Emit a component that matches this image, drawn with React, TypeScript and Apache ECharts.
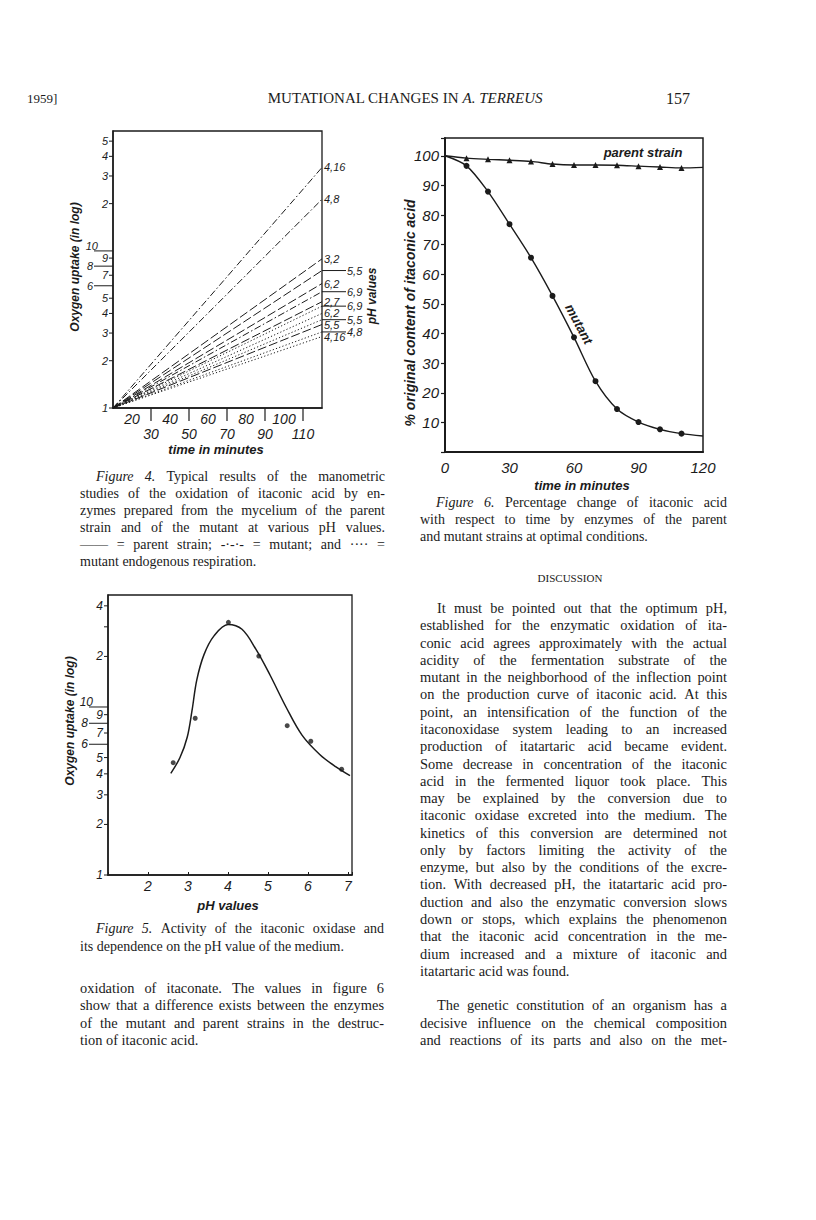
import React, { useEffect, useRef } from 'react';
import * as echarts from 'echarts';

const INK = '#1b1b1b';
const SANS = '"Liberation Sans"';
const SERIF = '"Liberation Serif"';

// ---------------- Figure 4 (oxygen uptake vs time, log scale) ----------------
const fig4TimeStart = 10;
const fig4TimeEnd = 120;
const fig4UptakeStart = 1;
const fig4YMax = 58;
const fig4PH = ['4,16', '4,8', '3,2', '5,5', '6,2', '6,9', '2,7', '6,9', '6,2', '5,5', '5,5', '4,8', '4,16'];
const fig4UptakeEnd = [34, 21.3, 8.9, 7.5, 6.2, 5.5, 4.75, 4.45, 4.0, 3.65, 3.4, 3.05, 2.85];
const fig4Kind = ['mutant', 'mutant', 'parent', 'parent', 'parent', 'mutant', 'parent', 'endogenous', 'endogenous', 'endogenous', 'parent', 'endogenous', 'endogenous'];
const fig4LabelColumn = [1, 1, 1, 2, 1, 2, 1, 2, 1, 2, 1, 2, 1];
const fig4YTicks = [1, 2, 3, 4, 5, 6, 7, 8, 9, 10, 20, 30, 40, 50];
const fig4YTickLabels = ['1', '2', '3', '4', '5', '6', '7', '8', '9', '10', '2', '3', '4', '5'];
const fig4YLongTicks = [6, 8, 10];
const fig4XTicks = [30, 50, 70, 90, 110];

// ---------------- Figure 6 (% itaconic acid vs time) ----------------
const fig6Time = [0, 10, 20, 30, 40, 50, 60, 70, 80, 90, 100, 110, 120];
const fig6Parent = [100, 99.2, 98.8, 98.5, 98.1, 97.2, 96.9, 96.9, 96.8, 96.5, 96.2, 95.9, 96.1];
const fig6Mutant = [100, 96.6, 87.9, 76.9, 65.6, 52.7, 38.7, 23.9, 14.5, 10.1, 7.65, 6.2, 5.4];
const fig6YMax = 106;

// ---------------- Figure 5 (oxygen uptake vs pH, log scale) ----------------
const fig5PH = [2.63, 3.18, 4.01, 4.77, 5.48, 6.07, 6.84];
const fig5Uptake = [4.66, 8.57, 31.9, 20.1, 7.74, 6.25, 4.26];
const fig5CurvePH = [2.57, 2.8, 2.98, 3.1, 3.22, 3.4, 3.65, 4.0, 4.35, 4.7, 5.05, 5.45, 5.85, 6.3, 6.7, 7.05];
const fig5CurveUptake = [4.03, 5.0, 6.6, 9.5, 14.5, 20.5, 26.5, 31.0, 29.0, 22.0, 15.5, 10.0, 6.8, 5.2, 4.4, 3.9];
const fig5YTicks = [1, 2, 3, 4, 5, 6, 7, 8, 9, 10, 20, 30, 40];
const fig5YTickLabels = ['1', '2', '3', '4', '5', '6', '7', '8', '9', '10', '2', '', '4'];
const fig5YLongTicks = [6, 8, 10];
const fig5XMin = 1;
const fig5XMax = 7.1;
const fig5YMax = 46.4;

// ---------------- Page text ----------------
const headerLeft = '1959]';
const headerTitle = 'MUTATIONAL CHANGES IN ';
const headerTitleItalic = 'A. TERREUS';
const headerPage = '157';

const captionFig4 = [
  'Figure 4. Typical results of the manometric',
  'studies of the oxidation of itaconic acid by en-',
  'zymes prepared from the mycelium of the parent',
  'strain and of the mutant at various pH values.',
  '—— = parent strain; -·-·- = mutant; and ···· =',
  'mutant endogenous respiration.',
];
const captionFig6 = [
  'Figure 6. Percentage change of itaconic acid',
  'with respect to time by enzymes of the parent',
  'and mutant strains at optimal conditions.',
];
const captionFig5 = [
  'Figure 5. Activity of the itaconic oxidase and',
  'its dependence on the pH value of the medium.',
];
const leftParagraph = [
  'oxidation of itaconate. The values in figure 6',
  'show that a difference exists between the enzymes',
  'of the mutant and parent strains in the destruc-',
  'tion of itaconic acid.',
];
const discussionTitle = 'DISCUSSION';
const rightParagraph1 = [
  'It must be pointed out that the optimum pH,',
  'established for the enzymatic oxidation of ita-',
  'conic acid agrees approximately with the actual',
  'acidity of the fermentation substrate of the',
  'mutant in the neighborhood of the inflection point',
  'on the production curve of itaconic acid. At this',
  'point, an intensification of the function of the',
  'itaconoxidase system leading to an increased',
  'production of itatartaric acid became evident.',
  'Some decrease in concentration of the itaconic',
  'acid in the fermented liquor took place. This',
  'may be explained by the conversion due to',
  'itaconic oxidase excreted into the medium. The',
  'kinetics of this conversion are determined not',
  'only by factors limiting the activity of the',
  'enzyme, but also by the conditions of the excre-',
  'tion. With decreased pH, the itatartaric acid pro-',
  'duction and also the enzymatic conversion slows',
  'down or stops, which explains the phenomenon',
  'that the itaconic acid concentration in the me-',
  'dium increased and a mixture of itaconic and',
  'itatartaric acid was found.',
];
const rightParagraph2 = [
  'The genetic constitution of an organism has a',
  'decisive influence on the chemical composition',
  'and reactions of its parts and also on the met-',
];

// ---------------- helpers ----------------
let measureCtx: CanvasRenderingContext2D | null = null;
function textWidth(t: string, font: string): number {
  if (!measureCtx) measureCtx = document.createElement('canvas').getContext('2d');
  measureCtx!.font = font;
  return measureCtx!.measureText(t).width;
}

type ParaOpts = {
  x0: number; x1: number; y0: number; step: number; size: number;
  indent?: number; italicLead?: number; lastJustified?: boolean;
};

function paragraph(lines: string[], o: ParaOpts): any[] {
  const els: any[] = [];
  const plain = `${o.size}px ${SERIF}`;
  const space = textWidth(' ', plain);
  lines.forEach((line, li) => {
    const words = line.split(' ').filter(Boolean);
    const x0 = o.x0 + (li === 0 ? o.indent || 0 : 0);
    const y = o.y0 + li * o.step;
    const fonts = words.map((_, wi) => (li === 0 && wi < (o.italicLead || 0) ? 'italic ' : '') + plain);
    const widths = words.map((w, wi) => textWidth(w, fonts[wi]));
    const sum = widths.reduce((a, b) => a + b, 0);
    const isLast = li === lines.length - 1;
    const justify = words.length > 1 && (!isLast || o.lastJustified);
    let gap = justify ? (o.x1 - x0 - sum) / (words.length - 1) : space;
    if (gap < space * 0.6) gap = space * 0.6;
    let x = x0;
    words.forEach((w, wi) => {
      els.push({
        type: 'text', x, y, silent: true,
        style: { text: w, font: fonts[wi], fill: INK, align: 'left', textAlign: 'left', verticalAlign: 'middle', textVerticalAlign: 'middle' },
      });
      x += widths[wi] + gap;
    });
  });
  return els;
}

function txt(text: string, x: number, y: number, font: string, align = 'center', rotation = 0): any {
  return {
    type: 'text', x, y, rotation, silent: true,
    style: { text, font, fill: INK, align, textAlign: align, verticalAlign: 'middle', textVerticalAlign: 'middle' },
  };
}

const dashFor: Record<string, number[]> = {
  mutant: [7, 2.5, 1.5, 2.5],
  parent: [9, 3],
  endogenous: [1.2, 2.2],
};

function yLogTickSeries(idx: number, xMin: number, ticks: number[], labels: string[], longTicks: number[], fontSize: number) {
  return {
    type: 'custom', xAxisIndex: idx, yAxisIndex: idx, clip: false, silent: true, z: 5,
    data: ticks.map((v, i) => [xMin, v, i]),
    renderItem: (_p: any, api: any) => {
      const v = api.value(1);
      const i = api.value(2);
      const p = api.coord([api.value(0), v]);
      const isLong = longTicks.indexOf(v) >= 0;
      const isTop = isLong && v === longTicks[longTicks.length - 1];
      const len = isLong ? 19 : 4;
      const children: any[] = [
        { type: 'line', shape: { x1: p[0] - len, y1: p[1], x2: p[0], y2: p[1] }, style: { stroke: INK, lineWidth: 1 } },
      ];
      const lab = labels[i];
      if (lab) {
        children.push({
          type: 'text',
          style: {
            text: lab,
            x: isTop ? p[0] - len + 4 : p[0] - len - 1,
            y: isTop ? p[1] - 5 : p[1],
            align: 'right', textAlign: 'right', verticalAlign: 'middle', textVerticalAlign: 'middle',
            font: `italic ${fontSize}px ${SANS}`, fill: INK,
          },
        });
      }
      return { type: 'group', children };
    },
  };
}

function buildOption(): any {
  const graphics: any[] = [];
  // header
  graphics.push(txt(headerLeft, 27, 98, `13px ${SERIF}`, 'left'));
  graphics.push({
    type: 'text', x: 405, y: 98, silent: true,
    style: {
      text: `{n|${headerTitle}}{i|${headerTitleItalic}}`,
      align: 'center', textAlign: 'center', verticalAlign: 'middle', textVerticalAlign: 'middle', fill: INK,
      rich: {
        n: { font: `15px ${SERIF}`, fill: INK },
        i: { font: `italic 15px ${SERIF}`, fill: INK },
      },
    },
  });
  graphics.push(txt(headerPage, 690, 98, `16px ${SERIF}`, 'right'));

  // figure 4 titles
  graphics.push(txt('Oxygen uptake (in log)', 75, 267, `italic bold 12px ${SANS}`, 'center', Math.PI / 2));
  graphics.push(txt('time in minutes', 216, 449, `italic bold 13px ${SANS}`));
  graphics.push(txt('pH values', 372, 296, `italic bold 12px ${SANS}`, 'center', Math.PI / 2));

  // figure 6 titles
  graphics.push(txt('% original content of itaconic acid', 410, 313, `italic bold 14px ${SANS}`, 'center', Math.PI / 2));
  graphics.push(txt('time in minutes', 582, 485, `italic bold 13px ${SANS}`));
  graphics.push(txt('parent strain', 643, 152, `italic bold 13px ${SANS}`));
  graphics.push(txt('mutant', 579, 324, `italic bold 13px ${SANS}`, 'center', -1.08));

  // figure 5 titles
  graphics.push(txt('Oxygen uptake (in log)', 70, 721, `italic bold 12px ${SANS}`, 'center', Math.PI / 2));
  graphics.push(txt('pH values', 228, 905, `italic bold 13px ${SANS}`));

  // text blocks
  graphics.push(...paragraph(captionFig4, { x0: 80, x1: 385, y0: 476, step: 17, size: 14, indent: 16, italicLead: 2 }));
  graphics.push(...paragraph(captionFig6, { x0: 420, x1: 727, y0: 502, step: 17, size: 14, indent: 16, italicLead: 2 }));
  graphics.push(...paragraph(captionFig5, { x0: 80, x1: 384, y0: 928, step: 18, size: 14, indent: 16, italicLead: 2 }));
  graphics.push(...paragraph(leftParagraph, { x0: 80, x1: 384, y0: 988, step: 17.3, size: 14.4 }));
  graphics.push(txt(discussionTitle, 570, 578, `11px ${SERIF}`));
  graphics.push(...paragraph(rightParagraph1, { x0: 420, x1: 727, y0: 608, step: 17.28, size: 14.4, indent: 17 }));
  graphics.push(...paragraph(rightParagraph2, { x0: 420, x1: 727, y0: 1005, step: 17.5, size: 14.4, indent: 17, lastJustified: true }));

  const axisBase = {
    splitLine: { show: false },
    axisTick: { show: false },
  };

  const series: any[] = [];
  // figure 4 lines
  fig4UptakeEnd.forEach((end, i) => {
    series.push({
      type: 'line', xAxisIndex: 0, yAxisIndex: 0, silent: true, symbol: 'none',
      data: [[fig4TimeStart, fig4UptakeStart], [fig4TimeEnd, end]],
      lineStyle: { color: INK, width: 1, type: dashFor[fig4Kind[i]] },
    });
  });
  // figure 4 pH labels at line ends
  series.push({
    type: 'custom', xAxisIndex: 0, yAxisIndex: 0, clip: false, silent: true, z: 6,
    data: fig4UptakeEnd.map((v, i) => [fig4TimeEnd, v, i]),
    renderItem: (_p: any, api: any) => {
      const i = api.value(2);
      const p = api.coord([api.value(0), api.value(1)]);
      const font = `italic 11px ${SANS}`;
      if (fig4LabelColumn[i] === 1) {
        return {
          type: 'text',
          style: { text: fig4PH[i], x: p[0] + 2, y: p[1], align: 'left', textAlign: 'left', verticalAlign: 'middle', textVerticalAlign: 'middle', font, fill: INK },
        };
      }
      return {
        type: 'group',
        children: [
          { type: 'line', shape: { x1: p[0], y1: p[1], x2: p[0] + 24, y2: p[1] }, style: { stroke: INK, lineWidth: 1 } },
          { type: 'text', style: { text: fig4PH[i], x: p[0] + 25, y: p[1], align: 'left', textAlign: 'left', verticalAlign: 'middle', textVerticalAlign: 'middle', font, fill: INK } },
        ],
      };
    },
  });
  // figure 4 x ticks
  series.push({
    type: 'custom', xAxisIndex: 0, yAxisIndex: 0, clip: false, silent: true,
    data: fig4XTicks.map((t) => [t, fig4UptakeStart]),
    renderItem: (_p: any, api: any) => {
      const p = api.coord([api.value(0), api.value(1)]);
      return { type: 'line', shape: { x1: p[0], y1: p[1], x2: p[0], y2: p[1] + 13 }, style: { stroke: INK, lineWidth: 1.2 } };
    },
  });
  series.push(yLogTickSeries(0, fig4TimeStart, fig4YTicks, fig4YTickLabels, fig4YLongTicks, 11));

  // figure 6
  const lastIdx = fig6Time.length - 1;
  series.push({
    type: 'line', xAxisIndex: 1, yAxisIndex: 1, silent: true, smooth: 0.3,
    data: fig6Time.map((t, i) => ({ value: [t, fig6Parent[i]], symbol: i === 0 || i === lastIdx ? 'none' : 'triangle' })),
    symbolSize: 6, itemStyle: { color: INK }, lineStyle: { color: INK, width: 1.4 },
  });
  series.push({
    type: 'line', xAxisIndex: 1, yAxisIndex: 1, silent: true, smooth: 0.3,
    data: fig6Time.map((t, i) => ({ value: [t, fig6Mutant[i]], symbol: i === 0 || i === lastIdx ? 'none' : 'circle' })),
    symbolSize: 6, itemStyle: { color: INK }, lineStyle: { color: INK, width: 1.4 },
  });

  // figure 5
  series.push({
    type: 'line', xAxisIndex: 2, yAxisIndex: 2, silent: true, smooth: 0.35, symbol: 'none',
    data: fig5CurvePH.map((x, i) => [x, fig5CurveUptake[i]]),
    lineStyle: { color: INK, width: 1.5 },
  });
  series.push({
    type: 'scatter', xAxisIndex: 2, yAxisIndex: 2, silent: true, symbolSize: 5,
    data: fig5PH.map((x, i) => [x, fig5Uptake[i]]),
    itemStyle: { color: INK },
  });
  series.push(yLogTickSeries(2, fig5XMin, fig5YTicks, fig5YTickLabels, fig5YLongTicks, 12));

  return {
    animation: false,
    backgroundColor: '#ffffff',
    grid: [
      { left: 113, top: 131, width: 209, height: 277, show: true, borderColor: INK, borderWidth: 1.3, backgroundColor: 'transparent' },
      { left: 445, top: 138, width: 258, height: 314, show: true, borderColor: INK, borderWidth: 1.5, backgroundColor: 'transparent' },
      { left: 108, top: 595, width: 244, height: 280, show: true, borderColor: INK, borderWidth: 1.3, backgroundColor: 'transparent' },
    ],
    xAxis: [
      {
        ...axisBase, gridIndex: 0, type: 'value', min: fig4TimeStart, max: fig4TimeEnd, interval: 10,
        axisLine: { show: true, lineStyle: { color: INK, width: 1.5 } },
        axisLabel: {
          formatter: (v: number) => (v === fig4TimeStart ? '' : v % 20 === 0 ? String(v) : '\n' + v),
          fontFamily: 'Liberation Sans', fontStyle: 'italic', fontSize: 14, color: INK, margin: 3, lineHeight: 15,
        },
      },
      {
        ...axisBase, gridIndex: 1, type: 'value', min: 0, max: 120, interval: 30,
        axisLine: { show: true, lineStyle: { color: INK, width: 2 } },
        axisLabel: { fontFamily: 'Liberation Sans', fontStyle: 'italic', fontSize: 15, color: INK, margin: 8 },
      },
      {
        ...axisBase, gridIndex: 2, type: 'value', min: fig5XMin, max: fig5XMax, interval: 1,
        axisLine: { show: true, lineStyle: { color: INK, width: 1.5 } },
        axisTick: { show: true, inside: true, length: 3, lineStyle: { color: INK } },
        axisLabel: {
          formatter: (v: number) => (v >= 2 && v <= 7 && Math.abs(v - Math.round(v)) < 1e-6 ? String(Math.round(v)) : ''),
          fontFamily: 'Liberation Sans', fontStyle: 'italic', fontSize: 14, color: INK, margin: 4,
        },
      },
    ],
    yAxis: [
      {
        ...axisBase, gridIndex: 0, type: 'log', logBase: 10, min: 1, max: fig4YMax,
        axisLine: { show: true, lineStyle: { color: INK, width: 1.5 } }, axisLabel: { show: false },
        minorTick: { show: false },
      },
      {
        ...axisBase, gridIndex: 1, type: 'value', min: 0, max: fig6YMax, interval: 10,
        axisLine: { show: true, lineStyle: { color: INK, width: 2 } },
        axisTick: { show: true, length: 4, lineStyle: { color: INK, width: 1.2 } },
        axisLabel: {
          formatter: (v: number) => (v >= 10 && v <= 100 && v % 10 === 0 ? String(v) : ''),
          fontFamily: 'Liberation Sans', fontStyle: 'italic', fontSize: 15, color: INK, margin: 6,
        },
      },
      {
        ...axisBase, gridIndex: 2, type: 'log', logBase: 10, min: 1, max: fig5YMax,
        axisLine: { show: true, lineStyle: { color: INK, width: 1.5 } }, axisLabel: { show: false },
        minorTick: { show: false },
      },
    ],
    series,
    graphic: { elements: graphics },
  };
}

export default function App() {
  const ref = useRef<HTMLDivElement>(null);
  useEffect(() => {
    if (!ref.current) return;
    const chart = echarts.init(ref.current, null, { renderer: 'svg' });
    chart.setOption(buildOption());
    return () => chart.dispose();
  }, []);
  return (
    <div
      ref={ref}
      style={{ position: 'absolute', left: 0, top: 0, width: 816, height: 1220, background: '#ffffff' }}
    />
  );
}
